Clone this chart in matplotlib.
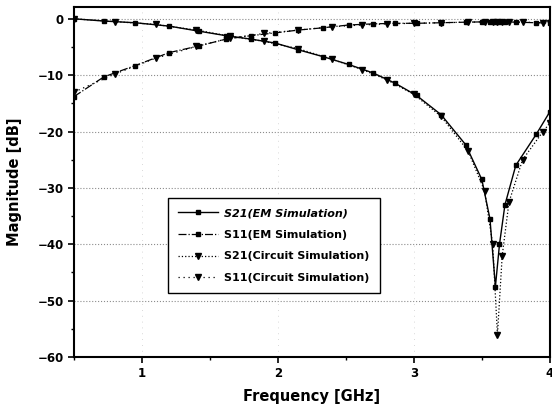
import matplotlib
matplotlib.use("Agg")
import matplotlib.pyplot as plt
from matplotlib.ticker import MultipleLocator

# EM simulation samples (GHz, dB)
f_em = [0.50, 0.72, 0.95, 1.20, 1.42, 1.62, 1.80, 1.98, 2.15, 2.33, 2.52, 2.70,
        2.86, 3.02, 3.20, 3.38, 3.50, 3.56, 3.60, 3.63, 3.67, 3.75, 3.90, 4.00]
s21_em = [0.0, -0.4, -0.7, -1.3, -2.2, -3.0, -3.6, -4.3, -5.5, -6.7, -8.1, -9.6,
          -11.4, -13.6, -17.0, -22.3, -28.5, -35.5, -47.5, -40.0, -33.0, -26.0, -20.5, -16.5]
s11_em = [-13.8, -10.3, -8.3, -6.0, -4.8, -3.6, -3.0, -2.5, -2.0, -1.6, -1.1, -0.9,
          -0.8, -0.8, -0.7, -0.6, -0.55, -0.5, -0.5, -0.5, -0.55, -0.6, -0.7, -0.75]

# circuit simulation samples (GHz, dB)
f_ct = [0.50, 0.80, 1.10, 1.40, 1.65, 1.90, 2.15, 2.40, 2.62, 2.80, 3.00, 3.20,
        3.40, 3.52, 3.58, 3.615, 3.65, 3.70, 3.80, 3.95, 4.00]
s21_ct = [0.0, -0.5, -1.0, -2.0, -3.1, -4.0, -5.3, -7.2, -9.0, -10.8, -13.4, -17.3,
          -23.5, -30.5, -40.0, -56.0, -42.0, -32.5, -25.0, -20.0, -18.5]
s11_ct = [-13.0, -9.8, -7.0, -4.9, -3.4, -2.6, -2.0, -1.4, -1.1, -0.9, -0.8, -0.7,
          -0.6, -0.55, -0.5, -0.5, -0.5, -0.55, -0.6, -0.7, -0.75]

fig = plt.figure(figsize=(5.52, 4.09), dpi=100)
ax = fig.add_axes([0.134, 0.127, 0.862, 0.856])

ax.plot(f_em, s21_em, color="black", lw=1.0, ls="-", marker="s", ms=3.0,
        label="S21(EM Simulation)")
ax.plot(f_em, s11_em, color="black", lw=0.9, ls="-.", marker="s", ms=3.0,
        label="S11(EM Simulation)")
ax.plot(f_ct, s21_ct, color="black", lw=0.9, ls=":", marker="v", ms=4,
        label="S21(Circuit Simulation)")
ax.plot(f_ct, s11_ct, color="black", lw=0.9, ls=(0, (1, 3)), marker="v", ms=4,
        label="S11(Circuit Simulation)")

ax.set_xlim(0.5, 4.0)
ax.set_ylim(-60, 2.1)
ax.xaxis.set_major_locator(MultipleLocator(1))
ax.xaxis.set_minor_locator(MultipleLocator(0.5))
ax.yaxis.set_major_locator(MultipleLocator(10))
ax.yaxis.set_minor_locator(MultipleLocator(5))
ax.tick_params(which="major", direction="out", length=4, width=1.2, labelsize=8.5)
ax.tick_params(which="minor", direction="out", length=2.5, width=1.0)
for lab in ax.get_xticklabels() + ax.get_yticklabels():
    lab.set_fontweight("semibold")
ax.yaxis.grid(True, which="major", color="0.55", ls=":", lw=0.8)
ax.xaxis.grid(True, which="major", color="0.8", ls=(0, (1, 6)), lw=0.6)
for s in ax.spines.values():
    s.set_linewidth(1.5)

ax.set_xlabel("Frequency [GHz]", fontsize=10.5, fontweight="bold", labelpad=6)
ax.set_ylabel("Magnitude [dB]", fontsize=10.5, fontweight="bold", labelpad=11)

leg = ax.legend(loc="upper left", bbox_to_anchor=(0.197, 0.454), borderaxespad=0,
                fancybox=False, framealpha=1, edgecolor="black",
                prop={"size": 8, "weight": "bold"}, handlelength=3.6,
                labelspacing=1.05, borderpad=0.9, handletextpad=0.6)
leg.get_frame().set_linewidth(1.0)
leg.get_texts()[0].set_fontstyle("italic")

fig.savefig("out.png", dpi=100)
